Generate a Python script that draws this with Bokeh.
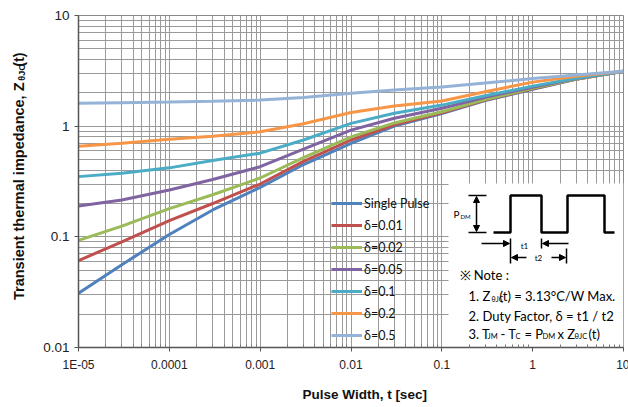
from bokeh.plotting import figure
from bokeh.layouts import row
from bokeh.models import (Range1d, LinearScale, FixedTicker, CustomJSTickFormatter,
                          Label, Arrow, NormalHead, Legend, LegendItem, Title)
from bokeh.embed import file_html
from bokeh.resources import INLINE

# ---------------- data ----------------
pulse_width = [1e-5, 3e-5, 1e-4, 3e-4, 1e-3, 3e-3, 1e-2, 3e-2, 0.1, 0.3, 1, 3, 10]
z_single = [0.031, 0.056, 0.105, 0.175, 0.28, 0.45, 0.70, 1.00, 1.30, 1.70, 2.15, 2.65, 3.13]
z_d001 = [0.061, 0.090, 0.140, 0.200, 0.30, 0.48, 0.75, 1.03, 1.32, 1.72, 2.18, 2.66, 3.13]
z_d002 = [0.093, 0.125, 0.180, 0.240, 0.34, 0.52, 0.80, 1.07, 1.35, 1.74, 2.20, 2.67, 3.13]
z_d005 = [0.19, 0.215, 0.265, 0.33, 0.43, 0.62, 0.92, 1.18, 1.45, 1.82, 2.25, 2.69, 3.13]
z_d01 = [0.35, 0.375, 0.42, 0.49, 0.57, 0.75, 1.06, 1.31, 1.55, 1.88, 2.30, 2.71, 3.13]
z_d02 = [0.66, 0.70, 0.76, 0.81, 0.89, 1.05, 1.33, 1.52, 1.69, 2.05, 2.50, 2.82, 3.13]
z_d05 = [1.61, 1.63, 1.65, 1.68, 1.72, 1.82, 1.98, 2.12, 2.26, 2.45, 2.69, 2.90, 3.13]

series_values = [z_single, z_d001, z_d002, z_d005, z_d01, z_d02, z_d05]
series_labels = ["Single Pulse", "δ=0.01", "δ=0.02", "δ=0.05", "δ=0.1", "δ=0.2", "δ=0.5"]
series_colors = ["#4F81BD", "#C0504D", "#9BBB59", "#8064A2", "#4BACC6", "#F79646", "#95B3D7"]

x_ticks = [1e-5, 1e-4, 1e-3, 1e-2, 1e-1, 1, 10]
x_tick_labels = ["1E-05", "0.0001", "0.001", "0.01", "0.1", "1", "10"]
y_ticks = [0.01, 0.1, 1, 10]
y_tick_labels = ["0.01", "0.1", "1", "10"]

# ---------------- figure ----------------
FW, FH = 545, 332
TOP, BOTTOM = 15, 60
TOTAL_H = TOP + FH + BOTTOM
p = figure(x_axis_type="log", y_axis_type="log",
           x_range=(1e-5, 10), y_range=(0.01, 10),
           frame_width=FW, frame_height=FH,
           min_border_left=37, min_border_right=6, min_border_top=TOP, min_border_bottom=BOTTOM,
           output_backend="svg", toolbar_location=None)
p.background_fill_color = "white"
p.outline_line_color = "#8a8a8a"

# pixel helper ranges for the decorative note diagram
p.extra_x_ranges = {"px": Range1d(0, FW)}
p.extra_y_ranges = {"px": Range1d(0, FH)}
p.extra_x_scales = {"px": LinearScale()}
p.extra_y_scales = {"px": LinearScale()}

def minors(ticks):
    return [d * m for d in ticks[:-1] for m in range(2, 10)]

p.xaxis.ticker = FixedTicker(ticks=x_ticks, minor_ticks=minors(x_ticks))
p.yaxis.ticker = FixedTicker(ticks=y_ticks, minor_ticks=minors(y_ticks))
fmt_code = """
let best = 0, bd = 1e9;
for (let i = 0; i < vals.length; i++) {
  const d = Math.abs(Math.log10(vals[i]) - Math.log10(tick));
  if (d < bd) { bd = d; best = i; }
}
return labs[best];
"""
p.xaxis.formatter = CustomJSTickFormatter(args=dict(vals=x_ticks, labs=x_tick_labels), code=fmt_code)
p.yaxis.formatter = CustomJSTickFormatter(args=dict(vals=y_ticks, labs=y_tick_labels), code=fmt_code)

for ax in (p.xaxis[0], p.yaxis[0]):
    ax.axis_line_color = "#555555"
    ax.axis_line_width = 1.5
    ax.major_tick_line_color = "#555555"
    ax.major_tick_out = 4
    ax.major_tick_in = 0
    ax.major_label_text_font = "Liberation Sans"
    ax.major_label_text_color = "#222222"
p.xaxis.major_label_text_font_size = "12px"
p.yaxis.major_label_text_font_size = "13.5px"
p.xaxis.minor_tick_in = 3
p.xaxis.minor_tick_out = 0
p.xaxis.minor_tick_line_color = "#777777"
p.yaxis.minor_tick_in = 0
p.yaxis.minor_tick_out = 0
p.xaxis.major_label_standoff = 6
p.yaxis.major_label_standoff = 5

for g in (p.xgrid[0], p.ygrid[0]):
    g.grid_line_color = "#9a9a9a"
    g.grid_line_width = 1
    g.minor_grid_line_color = "#9a9a9a"
    g.minor_grid_line_width = 1

# x-axis title
p.add_layout(Title(text="Pulse Width, t [sec]", align="left", offset=224, standoff=20,
                   text_font="Liberation Sans", text_font_size="13.5px",
                   text_font_style="bold", text_color="#111111"), "below")

# ---------------- curves ----------------
items = []
for vals, lab_, col in zip(series_values, series_labels, series_colors):
    r = p.line(pulse_width, vals, line_color=col, line_width=3)
    items.append(LegendItem(label=lab_, renderers=[r]))

# ---------------- note box ----------------
p.quad(left=370, right=FW, bottom=0, top=164, x_range_name="px", y_range_name="px",
       fill_color="white", line_color=None)

wave_x = [415, 432, 432, 463, 463, 489, 489, 526, 526, 536]
wave_y = [115, 115, 152, 152, 115, 115, 152, 152, 115, 115]
p.line(wave_x, wave_y, x_range_name="px", y_range_name="px", line_color="black", line_width=2.5)

p.segment(x0=[390, 390, 432, 463, 488], y0=[152, 115, 109, 109, 99],
          x1=[408, 408, 432, 463, 488], y1=[152, 115, 84, 99, 84],
          x_range_name="px", y_range_name="px", line_color="black", line_width=1.5)

def arrow(fig, x0, y0, x1, y1, both=False):
    a = Arrow(x_start=x0, y_start=y0, x_end=x1, y_end=y1,
              end=NormalHead(size=6, fill_color="black", line_color="black"),
              start=NormalHead(size=6, fill_color="black", line_color="black") if both else None,
              line_color="black", line_width=1.5, x_range_name="px", y_range_name="px")
    fig.add_layout(a)

arrow(p, 398, 116, 398, 151, both=True)
arrow(p, 403, 104, 431, 104)
arrow(p, 490, 104, 464, 104)
arrow(p, 448, 90, 433, 90)
arrow(p, 473, 90, 487, 90)

def lab(fig, x, y, text, size, font="Lato", bold=False, align="left", angle=0,
        color="black", rng=True):
    kw = dict(x_range_name="px", y_range_name="px") if rng else {}
    fig.add_layout(Label(x=x, y=y, text=text, text_font=font, text_font_size=size,
                         text_font_style="bold" if bold else "normal",
                         text_align=align, text_baseline="middle",
                         angle=angle, angle_units="deg", text_color=color, **kw))

lab(p, 375, 134, "P", "10px")
lab(p, 382, 131, "DM", "6px")
lab(p, 446, 102, "t1", "8px", align="center")
lab(p, 460, 90, "t2", "8px", align="center")

lab(p, 381, 73, "※ Note :", "13px")
lab(p, 390, 52, "1. Z", "13px")
lab(p, 413, 49, "θJC", "7px")
lab(p, 421, 52, "(t) = 3.13°C/W Max.", "13px")
lab(p, 390, 32, "2. Duty Factor, δ = t1 / t2", "13px")
lab(p, 390, 14, "3. T", "13px")
lab(p, 409, 11, "JM", "7.5px")
lab(p, 422, 14, "- T", "13px")
lab(p, 437, 11, "C", "7.5px")
lab(p, 446, 14, "= P", "13px")
lab(p, 464, 11, "DM", "7.5px")
lab(p, 479, 14, "x Z", "13px")
lab(p, 496, 11, "θJC", "7.5px")
lab(p, 510, 14, "(t)", "13px")

# ---------------- legend ----------------
legend = Legend(items=items, location=(253, 2), padding=0, margin=0,
                spacing=2, glyph_width=31, glyph_height=20, label_height=20,
                label_standoff=2, label_text_font="Lato", label_text_font_size="12.5px",
                label_text_color="#111111", background_fill_alpha=0, border_line_color=None)
p.add_layout(legend)

# ---------------- y-axis title panel ----------------
# (its frame is aligned with the main frame by the row layout, so the range
#  is expressed in page pixels measured upward from the bottom of the page)
YW = 40
yfig = figure(width=YW, height=TOTAL_H, x_range=Range1d(0, YW),
              y_range=Range1d(BOTTOM, TOTAL_H - TOP),
              x_axis_location=None, y_axis_location=None, min_border=0,
              output_backend="svg", toolbar_location=None)
yfig.grid.visible = False
yfig.outline_line_color = None
lab(yfig, 18, TOTAL_H - 303, "Transient thermal impedance, Z", "14.5px",
    font="Liberation Sans", bold=True, angle=90, rng=False, color="#111111")
lab(yfig, 21, TOTAL_H - 81, "θJC", "9px", font="Liberation Sans", bold=True, angle=90,
    rng=False, color="#111111")
lab(yfig, 18, TOTAL_H - 67, "(t)", "14.5px", font="Liberation Sans", bold=True, angle=90,
    rng=False, color="#111111")

layout = row(yfig, p, spacing=0)
open("out.html", "w").write(file_html(layout, INLINE))
